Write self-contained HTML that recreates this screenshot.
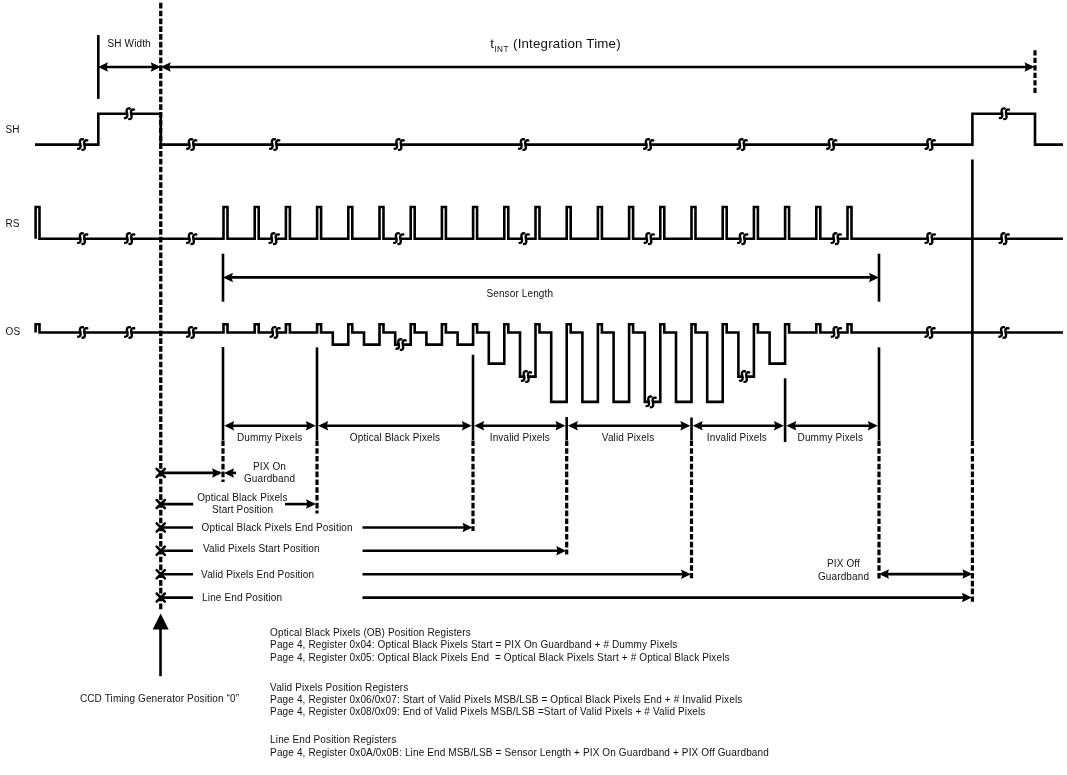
<!DOCTYPE html>
<html><head><meta charset="utf-8"><style>
html,body{margin:0;padding:0;background:#fff;}
body{width:1067px;height:775px;overflow:hidden;}
svg{display:block;will-change:transform;}
text{font-family:"Liberation Sans",sans-serif;fill:#111;stroke:none;}
</style></head><body>
<svg width="1067" height="775" viewBox="0 0 1067 775" stroke="#000" fill="none" stroke-linecap="butt">
<path d="M35,144.6 H98.3 V113.8 H160.75 V144.6 H972.4 V113.8 H1035 V144.6 H1063" fill="none" stroke-width="2.6"/>
<line x1="98.30" y1="35.00" x2="98.30" y2="98.90" stroke-width="2.6" />
<line x1="101.00" y1="67.00" x2="157.75" y2="67.00" stroke-width="2.6" />
<polygon points="98.00,67.00 108.00,62.25 106.50,67.00 108.00,71.75" stroke="none" fill="#000"/>
<polygon points="160.75,67.00 150.75,62.25 152.25,67.00 150.75,71.75" stroke="none" fill="#000"/>
<text x="107.50" y="46.50" font-size="10.0" letter-spacing="0.13" text-anchor="start" >SH Width</text>
<line x1="163.75" y1="67.00" x2="1031.50" y2="67.00" stroke-width="2.6" />
<polygon points="160.75,67.00 170.75,62.25 169.25,67.00 170.75,71.75" stroke="none" fill="#000"/>
<polygon points="1034.50,67.00 1024.50,62.25 1026.00,67.00 1024.50,71.75" stroke="none" fill="#000"/>
<line x1="1035.00" y1="50.30" x2="1035.00" y2="95.00" stroke-width="3.2" stroke-dasharray="5.3 2.2"/>
<text x="490.3" y="47.7" font-size="13.3" letter-spacing="0.2">t<tspan font-size="8.2" letter-spacing="0.6" dy="4.1">INT</tspan><tspan x="513" dy="-4.1">(Integration Time)</tspan></text>
<path d="M35.6,238.7 V207 H39.5 V238.7 H223.50 V207 H227.50 V238.7 H254.70 V207 H258.70 V238.7 H285.90 V207 H289.90 V238.7 H317.10 V207 H321.10 V238.7 H348.30 V207 H352.30 V238.7 H379.50 V207 H383.50 V238.7 H410.70 V207 H414.70 V238.7 H441.90 V207 H445.90 V238.7 H473.10 V207 H477.10 V238.7 H504.30 V207 H508.30 V238.7 H535.50 V207 H539.50 V238.7 H566.70 V207 H570.70 V238.7 H597.90 V207 H601.90 V238.7 H629.10 V207 H633.10 V238.7 H660.30 V207 H664.30 V238.7 H691.50 V207 H695.50 V238.7 H722.70 V207 H726.70 V238.7 H753.90 V207 H757.90 V238.7 H785.10 V207 H789.10 V238.7 H816.30 V207 H820.30 V238.7 H847.50 V207 H851.50 V238.7 H1063" fill="none" stroke-width="2.6"/>
<path d="M35.6,332.5 V324.3 H39.5 V332.5 H223.50 V324.3 H227.50 V332.5 H254.70 V324.3 H258.70 V332.5 H285.90 V324.3 H289.90 V332.5 H317.10 V324.3 H321.10 V332.5 H332.80 V344.6 H348.30 V324.3 H352.30 V332.5 H364.00 V344.6 H379.50 V324.3 H383.50 V332.5 H395.20 V344.6 H410.70 V324.3 H414.70 V332.5 H426.40 V344.6 H441.90 V324.3 H445.90 V332.5 H457.60 V344.6 H473.10 V324.3 H477.10 V332.5 H488.80 V363.6 H504.30 V324.3 H508.30 V332.5 H520.00 V376.6 H535.50 V324.3 H539.50 V332.5 H551.20 V401.9 H566.70 V324.3 H570.70 V332.5 H582.40 V401.9 H597.90 V324.3 H601.90 V332.5 H613.60 V401.9 H629.10 V324.3 H633.10 V332.5 H644.80 V401.9 H660.30 V324.3 H664.30 V332.5 H676.00 V401.9 H691.50 V324.3 H695.50 V332.5 H707.20 V401.9 H722.70 V324.3 H726.70 V332.5 H738.40 V376.6 H753.90 V324.3 H757.90 V332.5 H769.60 V363.6 H785.10 V324.3 H789.10 V332.5 H816.30 V324.3 H820.30 V332.5 H847.50 V324.3 H851.50 V332.5 H1063" fill="none" stroke-width="2.6"/>
<rect x="81.40" y="142.40" width="2.2" height="4.4" fill="#fff" stroke="none"/>
<path d="M82.95,139.30 Q79.95,138.70 79.85,141.90 L80.55,146.20 Q80.65,148.80 78.15,148.80" fill="none" stroke-width="2.4" stroke-linecap="round"/>
<path d="M87.25,140.40 Q84.25,139.80 84.15,143.00 L84.85,147.30 Q84.95,149.90 82.45,149.90" fill="none" stroke-width="2.4" stroke-linecap="round"/>
<rect x="190.40" y="142.40" width="2.2" height="4.4" fill="#fff" stroke="none"/>
<path d="M191.95,139.30 Q188.95,138.70 188.85,141.90 L189.55,146.20 Q189.65,148.80 187.15,148.80" fill="none" stroke-width="2.4" stroke-linecap="round"/>
<path d="M196.25,140.40 Q193.25,139.80 193.15,143.00 L193.85,147.30 Q193.95,149.90 191.45,149.90" fill="none" stroke-width="2.4" stroke-linecap="round"/>
<rect x="273.40" y="142.40" width="2.2" height="4.4" fill="#fff" stroke="none"/>
<path d="M274.95,139.30 Q271.95,138.70 271.85,141.90 L272.55,146.20 Q272.65,148.80 270.15,148.80" fill="none" stroke-width="2.4" stroke-linecap="round"/>
<path d="M279.25,140.40 Q276.25,139.80 276.15,143.00 L276.85,147.30 Q276.95,149.90 274.45,149.90" fill="none" stroke-width="2.4" stroke-linecap="round"/>
<rect x="397.90" y="142.40" width="2.2" height="4.4" fill="#fff" stroke="none"/>
<path d="M399.45,139.30 Q396.45,138.70 396.35,141.90 L397.05,146.20 Q397.15,148.80 394.65,148.80" fill="none" stroke-width="2.4" stroke-linecap="round"/>
<path d="M403.75,140.40 Q400.75,139.80 400.65,143.00 L401.35,147.30 Q401.45,149.90 398.95,149.90" fill="none" stroke-width="2.4" stroke-linecap="round"/>
<rect x="522.40" y="142.40" width="2.2" height="4.4" fill="#fff" stroke="none"/>
<path d="M523.95,139.30 Q520.95,138.70 520.85,141.90 L521.55,146.20 Q521.65,148.80 519.15,148.80" fill="none" stroke-width="2.4" stroke-linecap="round"/>
<path d="M528.25,140.40 Q525.25,139.80 525.15,143.00 L525.85,147.30 Q525.95,149.90 523.45,149.90" fill="none" stroke-width="2.4" stroke-linecap="round"/>
<rect x="647.40" y="142.40" width="2.2" height="4.4" fill="#fff" stroke="none"/>
<path d="M648.95,139.30 Q645.95,138.70 645.85,141.90 L646.55,146.20 Q646.65,148.80 644.15,148.80" fill="none" stroke-width="2.4" stroke-linecap="round"/>
<path d="M653.25,140.40 Q650.25,139.80 650.15,143.00 L650.85,147.30 Q650.95,149.90 648.45,149.90" fill="none" stroke-width="2.4" stroke-linecap="round"/>
<rect x="740.90" y="142.40" width="2.2" height="4.4" fill="#fff" stroke="none"/>
<path d="M742.45,139.30 Q739.45,138.70 739.35,141.90 L740.05,146.20 Q740.15,148.80 737.65,148.80" fill="none" stroke-width="2.4" stroke-linecap="round"/>
<path d="M746.75,140.40 Q743.75,139.80 743.65,143.00 L744.35,147.30 Q744.45,149.90 741.95,149.90" fill="none" stroke-width="2.4" stroke-linecap="round"/>
<rect x="830.40" y="142.40" width="2.2" height="4.4" fill="#fff" stroke="none"/>
<path d="M831.95,139.30 Q828.95,138.70 828.85,141.90 L829.55,146.20 Q829.65,148.80 827.15,148.80" fill="none" stroke-width="2.4" stroke-linecap="round"/>
<path d="M836.25,140.40 Q833.25,139.80 833.15,143.00 L833.85,147.30 Q833.95,149.90 831.45,149.90" fill="none" stroke-width="2.4" stroke-linecap="round"/>
<rect x="928.90" y="142.40" width="2.2" height="4.4" fill="#fff" stroke="none"/>
<path d="M930.45,139.30 Q927.45,138.70 927.35,141.90 L928.05,146.20 Q928.15,148.80 925.65,148.80" fill="none" stroke-width="2.4" stroke-linecap="round"/>
<path d="M934.75,140.40 Q931.75,139.80 931.65,143.00 L932.35,147.30 Q932.45,149.90 929.95,149.90" fill="none" stroke-width="2.4" stroke-linecap="round"/>
<rect x="128.15" y="111.60" width="2.2" height="4.4" fill="#fff" stroke="none"/>
<path d="M129.70,108.50 Q126.70,107.90 126.60,111.10 L127.30,115.40 Q127.40,118.00 124.90,118.00" fill="none" stroke-width="2.4" stroke-linecap="round"/>
<path d="M134.00,109.60 Q131.00,109.00 130.90,112.20 L131.60,116.50 Q131.70,119.10 129.20,119.10" fill="none" stroke-width="2.4" stroke-linecap="round"/>
<rect x="1003.15" y="111.60" width="2.2" height="4.4" fill="#fff" stroke="none"/>
<path d="M1004.70,108.50 Q1001.70,107.90 1001.60,111.10 L1002.30,115.40 Q1002.40,118.00 999.90,118.00" fill="none" stroke-width="2.4" stroke-linecap="round"/>
<path d="M1009.00,109.60 Q1006.00,109.00 1005.90,112.20 L1006.60,116.50 Q1006.70,119.10 1004.20,119.10" fill="none" stroke-width="2.4" stroke-linecap="round"/>
<rect x="81.40" y="236.50" width="2.2" height="4.4" fill="#fff" stroke="none"/>
<path d="M82.95,233.40 Q79.95,232.80 79.85,236.00 L80.55,240.30 Q80.65,242.90 78.15,242.90" fill="none" stroke-width="2.4" stroke-linecap="round"/>
<path d="M87.25,234.50 Q84.25,233.90 84.15,237.10 L84.85,241.40 Q84.95,244.00 82.45,244.00" fill="none" stroke-width="2.4" stroke-linecap="round"/>
<rect x="128.40" y="236.50" width="2.2" height="4.4" fill="#fff" stroke="none"/>
<path d="M129.95,233.40 Q126.95,232.80 126.85,236.00 L127.55,240.30 Q127.65,242.90 125.15,242.90" fill="none" stroke-width="2.4" stroke-linecap="round"/>
<path d="M134.25,234.50 Q131.25,233.90 131.15,237.10 L131.85,241.40 Q131.95,244.00 129.45,244.00" fill="none" stroke-width="2.4" stroke-linecap="round"/>
<rect x="190.40" y="236.50" width="2.2" height="4.4" fill="#fff" stroke="none"/>
<path d="M191.95,233.40 Q188.95,232.80 188.85,236.00 L189.55,240.30 Q189.65,242.90 187.15,242.90" fill="none" stroke-width="2.4" stroke-linecap="round"/>
<path d="M196.25,234.50 Q193.25,233.90 193.15,237.10 L193.85,241.40 Q193.95,244.00 191.45,244.00" fill="none" stroke-width="2.4" stroke-linecap="round"/>
<rect x="272.90" y="236.50" width="2.2" height="4.4" fill="#fff" stroke="none"/>
<path d="M274.45,233.40 Q271.45,232.80 271.35,236.00 L272.05,240.30 Q272.15,242.90 269.65,242.90" fill="none" stroke-width="2.4" stroke-linecap="round"/>
<path d="M278.75,234.50 Q275.75,233.90 275.65,237.10 L276.35,241.40 Q276.45,244.00 273.95,244.00" fill="none" stroke-width="2.4" stroke-linecap="round"/>
<rect x="397.40" y="236.50" width="2.2" height="4.4" fill="#fff" stroke="none"/>
<path d="M398.95,233.40 Q395.95,232.80 395.85,236.00 L396.55,240.30 Q396.65,242.90 394.15,242.90" fill="none" stroke-width="2.4" stroke-linecap="round"/>
<path d="M403.25,234.50 Q400.25,233.90 400.15,237.10 L400.85,241.40 Q400.95,244.00 398.45,244.00" fill="none" stroke-width="2.4" stroke-linecap="round"/>
<rect x="522.90" y="236.50" width="2.2" height="4.4" fill="#fff" stroke="none"/>
<path d="M524.45,233.40 Q521.45,232.80 521.35,236.00 L522.05,240.30 Q522.15,242.90 519.65,242.90" fill="none" stroke-width="2.4" stroke-linecap="round"/>
<path d="M528.75,234.50 Q525.75,233.90 525.65,237.10 L526.35,241.40 Q526.45,244.00 523.95,244.00" fill="none" stroke-width="2.4" stroke-linecap="round"/>
<rect x="647.90" y="236.50" width="2.2" height="4.4" fill="#fff" stroke="none"/>
<path d="M649.45,233.40 Q646.45,232.80 646.35,236.00 L647.05,240.30 Q647.15,242.90 644.65,242.90" fill="none" stroke-width="2.4" stroke-linecap="round"/>
<path d="M653.75,234.50 Q650.75,233.90 650.65,237.10 L651.35,241.40 Q651.45,244.00 648.95,244.00" fill="none" stroke-width="2.4" stroke-linecap="round"/>
<rect x="741.40" y="236.50" width="2.2" height="4.4" fill="#fff" stroke="none"/>
<path d="M742.95,233.40 Q739.95,232.80 739.85,236.00 L740.55,240.30 Q740.65,242.90 738.15,242.90" fill="none" stroke-width="2.4" stroke-linecap="round"/>
<path d="M747.25,234.50 Q744.25,233.90 744.15,237.10 L744.85,241.40 Q744.95,244.00 742.45,244.00" fill="none" stroke-width="2.4" stroke-linecap="round"/>
<rect x="834.90" y="236.50" width="2.2" height="4.4" fill="#fff" stroke="none"/>
<path d="M836.45,233.40 Q833.45,232.80 833.35,236.00 L834.05,240.30 Q834.15,242.90 831.65,242.90" fill="none" stroke-width="2.4" stroke-linecap="round"/>
<path d="M840.75,234.50 Q837.75,233.90 837.65,237.10 L838.35,241.40 Q838.45,244.00 835.95,244.00" fill="none" stroke-width="2.4" stroke-linecap="round"/>
<rect x="928.90" y="236.50" width="2.2" height="4.4" fill="#fff" stroke="none"/>
<path d="M930.45,233.40 Q927.45,232.80 927.35,236.00 L928.05,240.30 Q928.15,242.90 925.65,242.90" fill="none" stroke-width="2.4" stroke-linecap="round"/>
<path d="M934.75,234.50 Q931.75,233.90 931.65,237.10 L932.35,241.40 Q932.45,244.00 929.95,244.00" fill="none" stroke-width="2.4" stroke-linecap="round"/>
<rect x="1002.90" y="236.50" width="2.2" height="4.4" fill="#fff" stroke="none"/>
<path d="M1004.45,233.40 Q1001.45,232.80 1001.35,236.00 L1002.05,240.30 Q1002.15,242.90 999.65,242.90" fill="none" stroke-width="2.4" stroke-linecap="round"/>
<path d="M1008.75,234.50 Q1005.75,233.90 1005.65,237.10 L1006.35,241.40 Q1006.45,244.00 1003.95,244.00" fill="none" stroke-width="2.4" stroke-linecap="round"/>
<rect x="81.40" y="330.30" width="2.2" height="4.4" fill="#fff" stroke="none"/>
<path d="M82.95,327.20 Q79.95,326.60 79.85,329.80 L80.55,334.10 Q80.65,336.70 78.15,336.70" fill="none" stroke-width="2.4" stroke-linecap="round"/>
<path d="M87.25,328.30 Q84.25,327.70 84.15,330.90 L84.85,335.20 Q84.95,337.80 82.45,337.80" fill="none" stroke-width="2.4" stroke-linecap="round"/>
<rect x="128.40" y="330.30" width="2.2" height="4.4" fill="#fff" stroke="none"/>
<path d="M129.95,327.20 Q126.95,326.60 126.85,329.80 L127.55,334.10 Q127.65,336.70 125.15,336.70" fill="none" stroke-width="2.4" stroke-linecap="round"/>
<path d="M134.25,328.30 Q131.25,327.70 131.15,330.90 L131.85,335.20 Q131.95,337.80 129.45,337.80" fill="none" stroke-width="2.4" stroke-linecap="round"/>
<rect x="190.40" y="330.30" width="2.2" height="4.4" fill="#fff" stroke="none"/>
<path d="M191.95,327.20 Q188.95,326.60 188.85,329.80 L189.55,334.10 Q189.65,336.70 187.15,336.70" fill="none" stroke-width="2.4" stroke-linecap="round"/>
<path d="M196.25,328.30 Q193.25,327.70 193.15,330.90 L193.85,335.20 Q193.95,337.80 191.45,337.80" fill="none" stroke-width="2.4" stroke-linecap="round"/>
<rect x="273.80" y="330.30" width="2.2" height="4.4" fill="#fff" stroke="none"/>
<path d="M275.35,327.20 Q272.35,326.60 272.25,329.80 L272.95,334.10 Q273.05,336.70 270.55,336.70" fill="none" stroke-width="2.4" stroke-linecap="round"/>
<path d="M279.65,328.30 Q276.65,327.70 276.55,330.90 L277.25,335.20 Q277.35,337.80 274.85,337.80" fill="none" stroke-width="2.4" stroke-linecap="round"/>
<rect x="835.10" y="330.30" width="2.2" height="4.4" fill="#fff" stroke="none"/>
<path d="M836.65,327.20 Q833.65,326.60 833.55,329.80 L834.25,334.10 Q834.35,336.70 831.85,336.70" fill="none" stroke-width="2.4" stroke-linecap="round"/>
<path d="M840.95,328.30 Q837.95,327.70 837.85,330.90 L838.55,335.20 Q838.65,337.80 836.15,337.80" fill="none" stroke-width="2.4" stroke-linecap="round"/>
<rect x="928.70" y="330.30" width="2.2" height="4.4" fill="#fff" stroke="none"/>
<path d="M930.25,327.20 Q927.25,326.60 927.15,329.80 L927.85,334.10 Q927.95,336.70 925.45,336.70" fill="none" stroke-width="2.4" stroke-linecap="round"/>
<path d="M934.55,328.30 Q931.55,327.70 931.45,330.90 L932.15,335.20 Q932.25,337.80 929.75,337.80" fill="none" stroke-width="2.4" stroke-linecap="round"/>
<rect x="1002.60" y="330.30" width="2.2" height="4.4" fill="#fff" stroke="none"/>
<path d="M1004.15,327.20 Q1001.15,326.60 1001.05,329.80 L1001.75,334.10 Q1001.85,336.70 999.35,336.70" fill="none" stroke-width="2.4" stroke-linecap="round"/>
<path d="M1008.45,328.30 Q1005.45,327.70 1005.35,330.90 L1006.05,335.20 Q1006.15,337.80 1003.65,337.80" fill="none" stroke-width="2.4" stroke-linecap="round"/>
<rect x="399.80" y="342.40" width="2.2" height="4.4" fill="#fff" stroke="none"/>
<path d="M401.35,339.30 Q398.35,338.70 398.25,341.90 L398.95,346.20 Q399.05,348.80 396.55,348.80" fill="none" stroke-width="2.4" stroke-linecap="round"/>
<path d="M405.65,340.40 Q402.65,339.80 402.55,343.00 L403.25,347.30 Q403.35,349.90 400.85,349.90" fill="none" stroke-width="2.4" stroke-linecap="round"/>
<rect x="525.20" y="374.40" width="2.2" height="4.4" fill="#fff" stroke="none"/>
<path d="M526.75,371.30 Q523.75,370.70 523.65,373.90 L524.35,378.20 Q524.45,380.80 521.95,380.80" fill="none" stroke-width="2.4" stroke-linecap="round"/>
<path d="M531.05,372.40 Q528.05,371.80 527.95,375.00 L528.65,379.30 Q528.75,381.90 526.25,381.90" fill="none" stroke-width="2.4" stroke-linecap="round"/>
<rect x="649.80" y="399.70" width="2.2" height="4.4" fill="#fff" stroke="none"/>
<path d="M651.35,396.60 Q648.35,396.00 648.25,399.20 L648.95,403.50 Q649.05,406.10 646.55,406.10" fill="none" stroke-width="2.4" stroke-linecap="round"/>
<path d="M655.65,397.70 Q652.65,397.10 652.55,400.30 L653.25,404.60 Q653.35,407.20 650.85,407.20" fill="none" stroke-width="2.4" stroke-linecap="round"/>
<rect x="743.40" y="374.40" width="2.2" height="4.4" fill="#fff" stroke="none"/>
<path d="M744.95,371.30 Q741.95,370.70 741.85,373.90 L742.55,378.20 Q742.65,380.80 740.15,380.80" fill="none" stroke-width="2.4" stroke-linecap="round"/>
<path d="M749.25,372.40 Q746.25,371.80 746.15,375.00 L746.85,379.30 Q746.95,381.90 744.45,381.90" fill="none" stroke-width="2.4" stroke-linecap="round"/>
<line x1="223.00" y1="253.70" x2="223.00" y2="301.70" stroke-width="2.6" />
<line x1="879.00" y1="253.70" x2="879.00" y2="301.70" stroke-width="2.6" />
<line x1="226.00" y1="277.40" x2="876.00" y2="277.40" stroke-width="2.6" />
<polygon points="223.00,277.40 233.00,272.65 231.50,277.40 233.00,282.15" stroke="none" fill="#000"/>
<polygon points="879.00,277.40 869.00,272.65 870.50,277.40 869.00,282.15" stroke="none" fill="#000"/>
<text x="486.40" y="296.70" font-size="10.0" letter-spacing="0.13" text-anchor="start" >Sensor Length</text>
<line x1="223.00" y1="347.00" x2="223.00" y2="440.00" stroke-width="2.6" />
<line x1="223.00" y1="440.40" x2="223.00" y2="482.00" stroke-width="3.2" stroke-dasharray="5.6 2.2"/>
<line x1="317.00" y1="347.40" x2="317.00" y2="440.00" stroke-width="2.6" />
<line x1="317.00" y1="440.40" x2="317.00" y2="513.50" stroke-width="3.2" stroke-dasharray="5.6 2.2"/>
<line x1="473.00" y1="354.70" x2="473.00" y2="440.00" stroke-width="2.6" />
<line x1="473.00" y1="440.40" x2="473.00" y2="531.00" stroke-width="3.2" stroke-dasharray="5.6 2.2"/>
<line x1="566.70" y1="417.00" x2="566.70" y2="440.00" stroke-width="2.6" />
<line x1="566.70" y1="440.40" x2="566.70" y2="554.50" stroke-width="3.2" stroke-dasharray="5.6 2.2"/>
<line x1="691.50" y1="417.50" x2="691.50" y2="440.00" stroke-width="2.6" />
<line x1="691.50" y1="440.40" x2="691.50" y2="578.20" stroke-width="3.2" stroke-dasharray="5.6 2.2"/>
<line x1="785.10" y1="378.30" x2="785.10" y2="442.00" stroke-width="2.6" />
<line x1="879.00" y1="347.30" x2="879.00" y2="440.00" stroke-width="2.6" />
<line x1="879.00" y1="440.40" x2="879.00" y2="578.50" stroke-width="3.2" stroke-dasharray="5.6 2.2"/>
<line x1="972.40" y1="159.50" x2="972.40" y2="440.00" stroke-width="2.6" />
<line x1="972.40" y1="440.40" x2="972.40" y2="601.80" stroke-width="3.2" stroke-dasharray="5.6 2.2"/>
<line x1="227.20" y1="425.75" x2="312.80" y2="425.75" stroke-width="2.6" />
<polygon points="224.20,425.75 234.20,421.00 232.70,425.75 234.20,430.50" stroke="none" fill="#000"/>
<polygon points="315.80,425.75 305.80,421.00 307.30,425.75 305.80,430.50" stroke="none" fill="#000"/>
<text x="269.70" y="441.20" font-size="10.0" letter-spacing="0.13" text-anchor="middle" >Dummy Pixels</text>
<line x1="321.20" y1="425.75" x2="468.80" y2="425.75" stroke-width="2.6" />
<polygon points="318.20,425.75 328.20,421.00 326.70,425.75 328.20,430.50" stroke="none" fill="#000"/>
<polygon points="471.80,425.75 461.80,421.00 463.30,425.75 461.80,430.50" stroke="none" fill="#000"/>
<text x="395.00" y="441.20" font-size="10.0" letter-spacing="0.13" text-anchor="middle" >Optical Black Pixels</text>
<line x1="477.20" y1="425.75" x2="562.50" y2="425.75" stroke-width="2.6" />
<polygon points="474.20,425.75 484.20,421.00 482.70,425.75 484.20,430.50" stroke="none" fill="#000"/>
<polygon points="565.50,425.75 555.50,421.00 557.00,425.75 555.50,430.50" stroke="none" fill="#000"/>
<text x="519.85" y="441.20" font-size="10.0" letter-spacing="0.13" text-anchor="middle" >Invalid Pixels</text>
<line x1="570.90" y1="425.75" x2="687.30" y2="425.75" stroke-width="2.6" />
<polygon points="567.90,425.75 577.90,421.00 576.40,425.75 577.90,430.50" stroke="none" fill="#000"/>
<polygon points="690.30,425.75 680.30,421.00 681.80,425.75 680.30,430.50" stroke="none" fill="#000"/>
<text x="628.10" y="441.20" font-size="10.0" letter-spacing="0.13" text-anchor="middle" >Valid Pixels</text>
<line x1="695.70" y1="425.75" x2="780.90" y2="425.75" stroke-width="2.6" />
<polygon points="692.70,425.75 702.70,421.00 701.20,425.75 702.70,430.50" stroke="none" fill="#000"/>
<polygon points="783.90,425.75 773.90,421.00 775.40,425.75 773.90,430.50" stroke="none" fill="#000"/>
<text x="736.90" y="441.20" font-size="10.0" letter-spacing="0.13" text-anchor="middle" >Invalid Pixels</text>
<line x1="789.30" y1="425.75" x2="874.80" y2="425.75" stroke-width="2.6" />
<polygon points="786.30,425.75 796.30,421.00 794.80,425.75 796.30,430.50" stroke="none" fill="#000"/>
<polygon points="877.80,425.75 867.80,421.00 869.30,425.75 867.80,430.50" stroke="none" fill="#000"/>
<text x="830.30" y="441.20" font-size="10.0" letter-spacing="0.13" text-anchor="middle" >Dummy Pixels</text>
<line x1="160.75" y1="2.85" x2="160.75" y2="609.50" stroke-width="3.3" stroke-dasharray="5.7 2.1"/>
<polygon points="160.60,613.50 152.60,629.50 160.60,629.50 168.60,629.50" stroke="none" fill="#000"/>
<line x1="160.50" y1="625.00" x2="160.50" y2="676.20" stroke-width="2.6" />
<line x1="156.65" y1="468.80" x2="164.85" y2="477.00" stroke-width="2.5" stroke-linecap="round"/>
<line x1="156.65" y1="477.00" x2="164.85" y2="468.80" stroke-width="2.5" stroke-linecap="round"/>
<line x1="160.75" y1="472.90" x2="220.00" y2="472.90" stroke-width="2.6" />
<polygon points="222.00,472.90 212.00,468.15 213.50,472.90 212.00,477.65" stroke="none" fill="#000"/>
<polygon points="224.00,472.90 234.00,468.15 232.50,472.90 234.00,477.65" stroke="none" fill="#000"/>
<line x1="230.00" y1="472.90" x2="236.00" y2="472.90" stroke-width="2.6" />
<text x="269.50" y="469.80" font-size="10.0" letter-spacing="0.13" text-anchor="middle" >PIX On</text>
<text x="269.50" y="481.80" font-size="10.0" letter-spacing="0.13" text-anchor="middle" >Guardband</text>
<line x1="156.65" y1="500.00" x2="164.85" y2="508.20" stroke-width="2.5" stroke-linecap="round"/>
<line x1="156.65" y1="508.20" x2="164.85" y2="500.00" stroke-width="2.5" stroke-linecap="round"/>
<line x1="160.75" y1="504.10" x2="193.20" y2="504.10" stroke-width="2.6" />
<line x1="285.00" y1="504.10" x2="312.00" y2="504.10" stroke-width="2.6" />
<polygon points="316.00,504.10 306.00,499.35 307.50,504.10 306.00,508.85" stroke="none" fill="#000"/>
<text x="242.40" y="500.60" font-size="10.0" letter-spacing="0.13" text-anchor="middle" >Optical Black Pixels</text>
<text x="242.60" y="513.40" font-size="10.0" letter-spacing="0.13" text-anchor="middle" >Start Position</text>
<line x1="156.65" y1="523.40" x2="164.85" y2="531.60" stroke-width="2.5" stroke-linecap="round"/>
<line x1="156.65" y1="531.60" x2="164.85" y2="523.40" stroke-width="2.5" stroke-linecap="round"/>
<line x1="160.75" y1="527.50" x2="193.00" y2="527.50" stroke-width="2.6" />
<text x="201.60" y="531.40" font-size="10.0" letter-spacing="0.13" text-anchor="start" >Optical Black Pixels End Position</text>
<line x1="362.50" y1="527.50" x2="468.00" y2="527.50" stroke-width="2.6" />
<polygon points="472.50,527.50 462.50,522.75 464.00,527.50 462.50,532.25" stroke="none" fill="#000"/>
<line x1="156.65" y1="546.60" x2="164.85" y2="554.80" stroke-width="2.5" stroke-linecap="round"/>
<line x1="156.65" y1="554.80" x2="164.85" y2="546.60" stroke-width="2.5" stroke-linecap="round"/>
<line x1="160.75" y1="550.70" x2="193.00" y2="550.70" stroke-width="2.6" />
<text x="203.00" y="552.20" font-size="10.0" letter-spacing="0.13" text-anchor="start" >Valid Pixels Start Position</text>
<line x1="362.50" y1="550.70" x2="561.70" y2="550.70" stroke-width="2.6" />
<polygon points="566.20,550.70 556.20,545.95 557.70,550.70 556.20,555.45" stroke="none" fill="#000"/>
<line x1="156.65" y1="570.20" x2="164.85" y2="578.40" stroke-width="2.5" stroke-linecap="round"/>
<line x1="156.65" y1="578.40" x2="164.85" y2="570.20" stroke-width="2.5" stroke-linecap="round"/>
<line x1="160.75" y1="574.30" x2="193.00" y2="574.30" stroke-width="2.6" />
<text x="201.10" y="577.50" font-size="10.0" letter-spacing="0.13" text-anchor="start" >Valid Pixels End Position</text>
<line x1="362.50" y1="574.30" x2="686.50" y2="574.30" stroke-width="2.6" />
<polygon points="691.00,574.30 681.00,569.55 682.50,574.30 681.00,579.05" stroke="none" fill="#000"/>
<line x1="156.65" y1="593.50" x2="164.85" y2="601.70" stroke-width="2.5" stroke-linecap="round"/>
<line x1="156.65" y1="601.70" x2="164.85" y2="593.50" stroke-width="2.5" stroke-linecap="round"/>
<line x1="160.75" y1="597.60" x2="193.00" y2="597.60" stroke-width="2.6" />
<text x="202.10" y="600.80" font-size="10.0" letter-spacing="0.13" text-anchor="start" >Line End Position</text>
<line x1="362.50" y1="597.60" x2="967.40" y2="597.60" stroke-width="2.6" />
<polygon points="971.90,597.60 961.90,592.85 963.40,597.60 961.90,602.35" stroke="none" fill="#000"/>
<line x1="882.00" y1="574.10" x2="969.40" y2="574.10" stroke-width="2.6" />
<polygon points="879.00,574.10 889.00,569.35 887.50,574.10 889.00,578.85" stroke="none" fill="#000"/>
<polygon points="972.40,574.10 962.40,569.35 963.90,574.10 962.40,578.85" stroke="none" fill="#000"/>
<text x="843.50" y="566.90" font-size="10.0" letter-spacing="0.13" text-anchor="middle" >PIX Off</text>
<text x="843.50" y="579.90" font-size="10.0" letter-spacing="0.13" text-anchor="middle" >Guardband</text>
<text x="5.50" y="132.70" font-size="10.0" letter-spacing="0.13" text-anchor="start" >SH</text>
<text x="5.50" y="226.50" font-size="10.0" letter-spacing="0.13" text-anchor="start" >RS</text>
<text x="5.50" y="335.20" font-size="10.0" letter-spacing="0.13" text-anchor="start" >OS</text>
<text x="79.90" y="702.00" font-size="10.0" letter-spacing="0.13" text-anchor="start" >CCD Timing Generator Position “0”</text>
<text x="270.10" y="636.00" font-size="10.0" letter-spacing="0.13" text-anchor="start" >Optical Black Pixels (OB) Position Registers</text>
<text x="270.10" y="648.10" font-size="10.0" letter-spacing="0.13" text-anchor="start" >Page 4, Register 0x04: Optical Black Pixels Start = PIX On Guardband + # Dummy Pixels</text>
<text x="270.10" y="660.50" font-size="10.0" letter-spacing="0.13" text-anchor="start" >Page 4, Register 0x05: Optical Black Pixels End&#160; = Optical Black Pixels Start + # Optical Black Pixels</text>
<text x="270.10" y="690.50" font-size="10.0" letter-spacing="0.13" text-anchor="start" >Valid Pixels Position Registers</text>
<text x="270.10" y="703.00" font-size="10.0" letter-spacing="0.13" text-anchor="start" >Page 4, Register 0x06/0x07: Start of Valid Pixels MSB/LSB = Optical Black Pixels End + # Invalid Pixels</text>
<text x="270.10" y="715.20" font-size="10.0" letter-spacing="0.13" text-anchor="start" >Page 4, Register 0x08/0x09: End of Valid Pixels MSB/LSB =Start of Valid Pixels + # Valid Pixels</text>
<text x="270.10" y="743.30" font-size="10.0" letter-spacing="0.13" text-anchor="start" >Line End Position Registers</text>
<text x="270.10" y="755.60" font-size="10.0" letter-spacing="0.13" text-anchor="start" >Page 4, Register 0x0A/0x0B: Line End MSB/LSB = Sensor Length + PIX On Guardband + PIX Off Guardband</text>
</svg></body></html>
